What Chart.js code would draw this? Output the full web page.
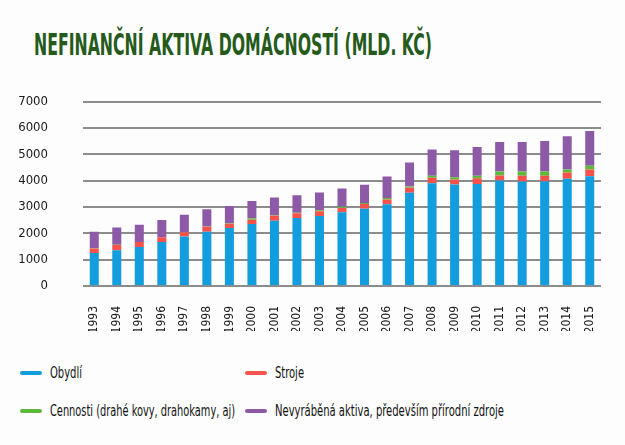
<!DOCTYPE html>
<html>
<head>
<meta charset="utf-8">
<script src="https://cdn.jsdelivr.net/npm/chart.js@4.4.0/dist/chart.umd.min.js"></script>
<style>
  html, body { margin: 0; padding: 0; background: #fcfdfc; }
  body { width: 625px; height: 445px; position: relative; overflow: hidden;
         font-family: "DejaVu Sans Condensed", "Liberation Sans Narrow", sans-serif; }
  #title { position: absolute; left: 34px; top: 27px; margin: 0; white-space: nowrap;
           font-weight: bold; font-size: 30px; color: #255a1b; transform-origin: 0 0; letter-spacing: 0; }
  #wrap { position: absolute; left: 0; top: 59px; width: 625px; height: 272px; }
  .leg { position: absolute; display: flex; align-items: center; white-space: nowrap;
         font-size: 16px; color: #111; }
  .leg .mk { width: 22px; height: 4px; border-radius: 2px; margin-right: 8px; flex: none; }
  .leg .tx { display: inline-block; transform-origin: 0 50%; }
</style>
</head>
<body>
<h1 id="title">NEFINANČNÍ AKTIVA DOMÁCNOSTÍ (MLD. KČ)</h1>
<div id="wrap"><canvas id="c"></canvas></div>
<div id="legend"></div>
<script>
const years = ["1993","1994","1995","1996","1997","1998","1999","2000","2001","2002","2003","2004","2005","2006","2007","2008","2009","2010","2011","2012","2013","2014","2015"];
const obydli   = [1250,1360,1480,1670,1880,2060,2200,2355,2480,2585,2660,2800,2940,3105,3540,3905,3855,3880,4010,3970,3985,4075,4175];
const stroje   = [175,200,190,180,165,190,165,165,190,175,180,165,175,180,190,205,190,215,190,215,200,240,255];
const cennosti = [5,5,5,5,10,10,15,50,20,20,35,50,40,60,50,75,90,90,155,165,165,115,140];
const nevyrab  = [635,660,655,655,655,655,660,660,670,670,675,690,690,815,915,1005,1020,1095,1120,1120,1160,1260,1325];
const yTicks = [0,1000,2000,3000,4000,5000,6000,7000];
const seriesNames = ["Obydlí","Stroje","Cennosti (drahé kovy, drahokamy, aj)","Nevyráběná aktiva, především přírodní zdroje"];
const colors = ["#129dde","#f5524c","#5eb93a","#8d5aa7"];

const FONT = "'DejaVu Sans Condensed', 'Liberation Sans Narrow', sans-serif";
const seriesData = [obydli, stroje, cennosti, nevyrab];

new Chart(document.getElementById('c'), {
  type: 'bar',
  data: {
    labels: years,
    datasets: seriesData.map((d, i) => ({
      label: seriesNames[i], data: d, backgroundColor: colors[i],
      borderWidth: 0, stack: 's', barPercentage: 0.4, categoryPercentage: 1.0
    }))
  },
  options: {
    responsive: true, maintainAspectRatio: false, animation: false,
    layout: { padding: { left: 0, right: 24, top: 0, bottom: 0 } },
    plugins: { legend: { display: false }, tooltip: { enabled: false }, title: { display: false } },
    scales: {
      x: {
        stacked: true,
        grid: { display: false }, border: { display: false },
        ticks: { color: '#1a1a1a', font: { family: FONT, size: 12 }, maxRotation: 90, minRotation: 90, padding: 12, autoSkip: false },
        afterFit: s => { s.height = 45; }
      },
      y: {
        stacked: true, min: 0, max: 7000,
        afterBuildTicks: s => { s.ticks = yTicks.map(v => ({ value: v })); },
        grid: { color: '#8c8c8c', lineWidth: 2, drawTicks: false },
        border: { display: false },
        ticks: { color: '#1a1a1a', font: { family: FONT, size: 13 }, padding: 35, callback: v => String(v) },
        afterFit: s => { s.width = 83; }
      }
    }
  }
});

// legend
const legPos = [[20,363],[245,363],[20,401],[245,401]];
const legTargets = [32, 29, 185, 229];
const legEl = document.getElementById('legend');
seriesNames.forEach((n, i) => {
  const d = document.createElement('div');
  d.className = 'leg';
  d.style.left = legPos[i][0] + 'px';
  d.style.top = legPos[i][1] + 'px';
  d.innerHTML = '<span class="mk" style="background:' + colors[i] + '"></span><span class="tx">' + n + '</span>';
  legEl.appendChild(d);
  const tx = d.querySelector('.tx');
  const tw = tx.getBoundingClientRect().width;
  tx.style.transform = 'scaleX(' + (legTargets[i] / tw) + ')';
});

// fit title width
const t = document.getElementById('title');
const w = t.getBoundingClientRect().width;
t.style.transform = 'scaleX(' + (398 / w) + ')';
</script>
</body>
</html>
